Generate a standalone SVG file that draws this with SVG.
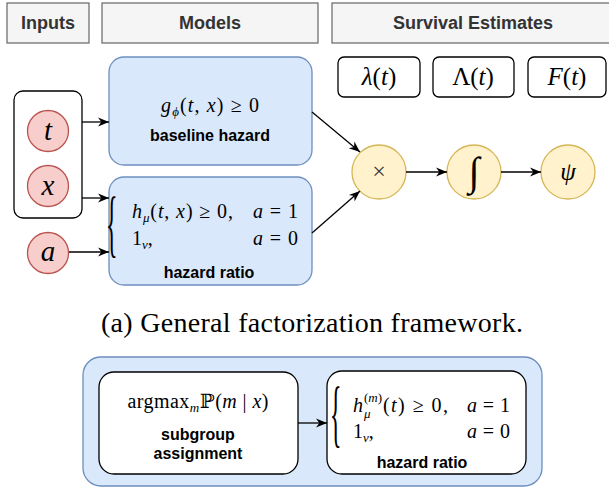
<svg xmlns="http://www.w3.org/2000/svg" width="609" height="487" viewBox="0 0 609 487">
<style>
.hdrbox{fill:#f5f5f5;stroke:#666666;stroke-width:1.2}
.hdr{font-family:"Liberation Sans",Arial,sans-serif;font-weight:bold;font-size:18px;fill:#333333;text-anchor:middle}
.lbl{font-family:"Liberation Sans",Arial,sans-serif;font-weight:bold;font-size:16px;fill:#000;text-anchor:middle}
.blue{fill:#dae8fc;stroke:#6c8ebf;stroke-width:1.3}
.white{fill:#ffffff;stroke:#000;stroke-width:1.3}
.red{fill:#f8cecc;stroke:#b85450;stroke-width:1.3}
.yel{fill:#fff2cc;stroke:#d6b656;stroke-width:1.3}
.m{font-family:"Liberation Serif","DejaVu Serif",serif;font-size:20px;fill:#000}
.i{font-style:italic}
.sub{font-size:13px}
.brace{font-family:"Liberation Serif","DejaVu Serif",serif;font-size:30px;fill:#000}
.big{font-family:"Liberation Serif","DejaVu Serif",serif;font-size:29px;font-style:italic;fill:#000;text-anchor:middle}
.est{font-family:"Liberation Serif","DejaVu Serif",serif;font-size:25px;fill:#000;text-anchor:middle}
.conn line{stroke:#000;stroke-width:1.3;fill:none;marker-end:url(#ah)}
</style>
<defs>
<marker id="ah" viewBox="0 0 10 10" refX="10" refY="5" markerWidth="11" markerHeight="11" markerUnits="userSpaceOnUse" orient="auto">
<path d="M0,1 L10,5 L0,9 L3,5 z" fill="#000"/>
</marker>
</defs>

<g id="hdr-inputs">
<rect class="hdrbox" x="7" y="3" width="82" height="40"/>
<text class="hdr" x="48" y="29">Inputs</text>
</g>
<g id="hdr-models">
<rect class="hdrbox" x="102" y="3" width="216" height="40"/>
<text class="hdr" x="210" y="29">Models</text>
</g>
<g id="hdr-survival">
<rect class="hdrbox" x="332" y="3" width="290" height="40"/>
<text class="hdr" x="473" y="29">Survival Estimates</text>
</g>

<g id="est-lambda">
<rect class="white" x="338" y="57" width="82" height="40" rx="6"/>
<text class="est" x="379" y="85"><tspan class="i">λ</tspan>(<tspan class="i">t</tspan>)</text>
</g>
<g id="est-Lambda">
<rect class="white" x="433" y="57" width="81" height="40" rx="6"/>
<text class="est" x="473" y="85">Λ(<tspan class="i">t</tspan>)</text>
</g>
<g id="est-F">
<rect class="white" x="528" y="57" width="78" height="40" rx="6"/>
<text class="est" x="567" y="85"><tspan class="i">F</tspan>(<tspan class="i">t</tspan>)</text>
</g>

<g id="inputs-group">
<rect class="white" x="14" y="91" width="68" height="127" rx="9"/>
</g>
<g id="input-t">
<circle class="red" cx="48" cy="131" r="20.5"/>
<text class="big" x="48" y="140">t</text>
</g>
<g id="input-x">
<circle class="red" cx="48" cy="186" r="20.5"/>
<text class="big" x="48" y="195">x</text>
</g>
<g id="input-a">
<circle class="red" cx="48" cy="253" r="20.5"/>
<text class="big" x="48" y="261">a</text>
</g>

<g id="baseline-hazard">
<rect class="blue" x="109" y="57" width="203" height="108" rx="15"/>
<text class="m" x="210" y="112" text-anchor="middle" textLength="98" lengthAdjust="spacing"><tspan class="i">g</tspan><tspan class="sub i" dy="4">ϕ</tspan><tspan dy="-4">(</tspan><tspan class="i">t</tspan>, <tspan class="i">x</tspan>) ≥ 0</text>
<text class="lbl" x="210" y="141">baseline hazard</text>
</g>

<g id="hazard-ratio">
<rect class="blue" x="109" y="177" width="203" height="108" rx="15"/>
<text class="brace" transform="translate(106,248) scale(0.8,2.5)">{</text>
<text class="m" x="132" y="218" textLength="101" lengthAdjust="spacing"><tspan class="i">h</tspan><tspan class="sub i" dy="4">μ</tspan><tspan dy="-4">(</tspan><tspan class="i">t</tspan>, <tspan class="i">x</tspan>) ≥ 0,</text>
<text class="m" x="253" y="218" textLength="45" lengthAdjust="spacing"><tspan class="i">a</tspan> = 1</text>
<text class="m" x="132" y="245">1<tspan class="sub i" dy="4">v</tspan><tspan dy="-4">,</tspan></text>
<text class="m" x="253" y="245" textLength="45" lengthAdjust="spacing"><tspan class="i">a</tspan> = 0</text>
<text class="lbl" x="209" y="278">hazard ratio</text>
</g>

<g id="op-times">
<circle class="yel" cx="379" cy="172" r="27"/>
<text x="379" y="179" font-family="Liberation Serif,serif" font-size="24" fill="#333" text-anchor="middle">×</text>
</g>
<g id="op-integral">
<circle class="yel" cx="474" cy="172" r="27"/>
<text x="474" y="185" font-family="Liberation Serif,serif" font-size="40" font-style="italic" fill="#000" text-anchor="middle">∫</text>
</g>
<g id="op-psi">
<circle class="yel" cx="568" cy="172" r="27"/>
<text x="568" y="180" font-family="Liberation Serif,serif" font-size="25" font-style="italic" fill="#000" text-anchor="middle">ψ</text>
</g>

<g id="caption">
<text x="101" y="332" font-family="Liberation Serif,serif" font-size="28" fill="#000" textLength="422" lengthAdjust="spacing">(a) General factorization framework.</text>
</g>

<g id="mixture-panel">
<rect class="blue" x="83" y="357" width="459" height="129" rx="18"/>
</g>
<g id="subgroup-assignment">
<rect class="white" x="99" y="372" width="199" height="102" rx="15"/>
<text class="m" x="198" y="408" text-anchor="middle" textLength="141" lengthAdjust="spacing">argmax<tspan class="sub i" dy="4">m</tspan><tspan dy="-4">ℙ(</tspan><tspan class="i">m</tspan> | <tspan class="i">x</tspan>)</text>
<text class="lbl" x="198" y="440">subgroup</text>
<text class="lbl" x="198" y="459">assignment</text>
</g>
<g id="hazard-ratio-m">
<rect class="white" x="327" y="371" width="199" height="103" rx="15"/>
<text class="brace" transform="translate(330,438) scale(0.8,2.5)">{</text>
<text class="m i" x="353" y="412">h</text>
<text class="m sub" x="364" y="402">(<tspan class="i">m</tspan>)</text>
<text class="m sub i" x="364" y="418">μ</text>
<text class="m" x="383" y="412" textLength="65" lengthAdjust="spacing">(<tspan class="i">t</tspan>) ≥ 0,</text>
<text class="m" x="467" y="412" textLength="43" lengthAdjust="spacing"><tspan class="i">a</tspan> = 1</text>
<text class="m" x="353" y="438">1<tspan class="sub i" dy="4">v</tspan><tspan dy="-4">,</tspan></text>
<text class="m" x="467" y="438" textLength="43" lengthAdjust="spacing"><tspan class="i">a</tspan> = 0</text>
<text class="lbl" x="422" y="468">hazard ratio</text>
</g>

<g id="connectors" class="conn">
<line x1="82" y1="122" x2="109" y2="122"/>
<line x1="82" y1="198" x2="109" y2="198"/>
<line x1="69" y1="252" x2="109" y2="252"/>
<line x1="312" y1="112" x2="360" y2="152"/>
<line x1="312" y1="233" x2="360" y2="191"/>
<line x1="406" y1="172" x2="447" y2="172"/>
<line x1="501" y1="172" x2="541" y2="172"/>
<line x1="298" y1="423" x2="327" y2="423"/>
</g>
</svg>
